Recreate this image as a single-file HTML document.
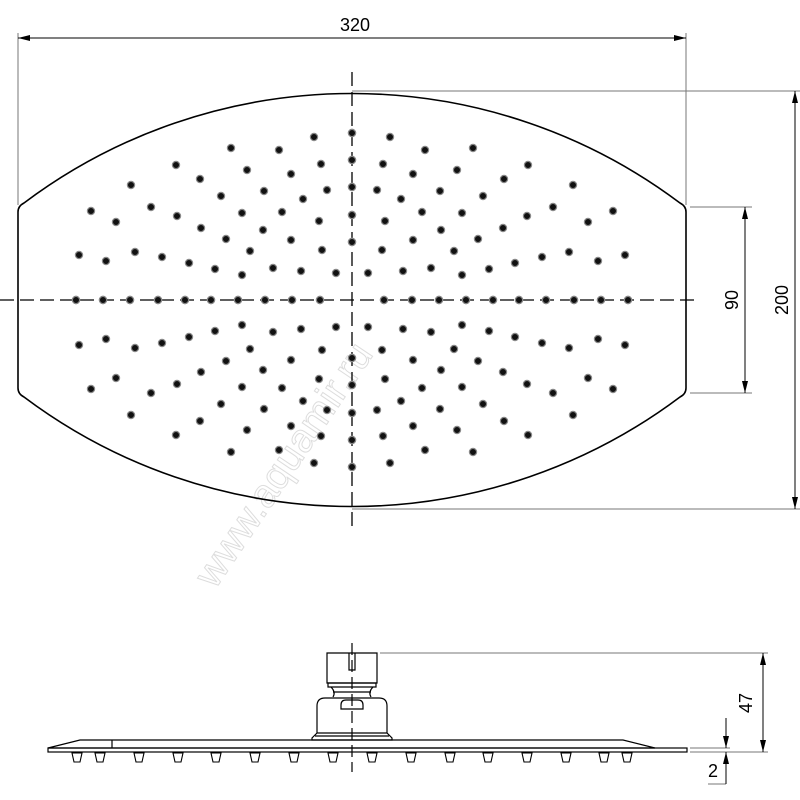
<!DOCTYPE html>
<html><head><meta charset="utf-8"><style>html,body{margin:0;padding:0;background:#fff}svg{display:block}</style></head><body>
<svg width="800" height="800" viewBox="0 0 800 800" xmlns="http://www.w3.org/2000/svg" xmlns:xlink="http://www.w3.org/1999/xlink" font-family="Liberation Sans, sans-serif">
<defs>
<marker id="ar" markerWidth="12" markerHeight="6" refX="12" refY="3" orient="auto" markerUnits="userSpaceOnUse"><path d="M0,0 L12,3 L0,6z" fill="#000"/></marker>
<marker id="as" markerWidth="12" markerHeight="6" refX="0" refY="3" orient="auto" markerUnits="userSpaceOnUse"><path d="M12,0 L0,3 L12,6z" fill="#000"/></marker>
<g id="q" fill="#111" stroke="#888" stroke-width="1.2">
<circle cx="314" cy="137" r="3.6"/><circle cx="231" cy="148" r="3.6"/><circle cx="279" cy="150" r="3.6"/><circle cx="321" cy="164" r="3.6"/>
<circle cx="247" cy="170" r="3.6"/><circle cx="176" cy="165" r="3.6"/><circle cx="200" cy="179" r="3.6"/><circle cx="291" cy="174" r="3.6"/>
<circle cx="327" cy="190" r="3.6"/><circle cx="264" cy="191" r="3.6"/><circle cx="221" cy="196" r="3.6"/><circle cx="303" cy="199" r="3.6"/>
<circle cx="131" cy="185" r="3.6"/><circle cx="151" cy="207" r="3.6"/><circle cx="177" cy="216" r="3.6"/><circle cx="242" cy="213" r="3.6"/>
<circle cx="282" cy="212" r="3.6"/><circle cx="319" cy="221" r="3.6"/><circle cx="91" cy="211" r="3.6"/><circle cx="116" cy="222" r="3.6"/>
<circle cx="201" cy="228" r="3.6"/><circle cx="263" cy="230" r="3.6"/><circle cx="226" cy="239" r="3.6"/><circle cx="291" cy="240" r="3.6"/>
<circle cx="322" cy="250" r="3.6"/><circle cx="250" cy="251" r="3.6"/><circle cx="79" cy="255" r="3.6"/><circle cx="106" cy="261" r="3.6"/>
<circle cx="135" cy="252" r="3.6"/><circle cx="162" cy="257" r="3.6"/><circle cx="189" cy="263" r="3.6"/><circle cx="215" cy="269" r="3.6"/>
<circle cx="242" cy="275" r="3.6"/><circle cx="273" cy="268" r="3.6"/><circle cx="301" cy="271" r="3.6"/><circle cx="336" cy="273" r="3.6"/>
<circle cx="76" cy="300" r="3.6"/><circle cx="103" cy="300" r="3.6"/><circle cx="130" cy="300" r="3.6"/><circle cx="158" cy="300" r="3.6"/>
<circle cx="185" cy="300" r="3.6"/><circle cx="211" cy="300" r="3.6"/><circle cx="238" cy="300" r="3.6"/><circle cx="265" cy="300" r="3.6"/>
<circle cx="292" cy="300" r="3.6"/><circle cx="320" cy="300" r="3.6"/>
<circle cx="352" cy="133" r="3.6"/><circle cx="352" cy="160" r="3.6"/><circle cx="352" cy="187" r="3.6"/><circle cx="352" cy="215" r="3.6"/><circle cx="352" cy="242" r="3.6"/>
</g>
</defs>
<!-- watermark -->
<text x="0" y="0" transform="translate(215,590) rotate(-56)" font-size="40" fill="#fff" stroke="#ddd" stroke-width="1">www.aquamir.ru</text>
<!-- outline -->
<path d="M18,212 Q18,206 24,203 A546,546 0 0 1 680,203 Q686,206 686,212 L686,388 Q686,394 680,397 A546,546 0 0 1 24,397 Q18,394 18,388 Z" fill="none" stroke="#000" stroke-width="1.6"/>
<!-- center lines -->
<line x1="0" y1="300" x2="700" y2="300" stroke="#000" stroke-width="1.3" stroke-dasharray="14,6"/>
<line x1="352" y1="72" x2="352" y2="526" stroke="#000" stroke-width="1.3" stroke-dasharray="14,6"/>
<!-- dots -->
<use xlink:href="#q" href="#q"/>
<use xlink:href="#q" href="#q" transform="translate(704,0) scale(-1,1)"/>
<use xlink:href="#q" href="#q" transform="translate(0,600) scale(1,-1)"/>
<use xlink:href="#q" href="#q" transform="translate(704,600) scale(-1,-1)"/>
<!-- dims -->
<g stroke="#777" stroke-width="1" fill="none">
<line x1="18" y1="33" x2="18" y2="205"/><line x1="686" y1="33" x2="686" y2="205"/>
<line x1="352" y1="91" x2="800" y2="91"/><line x1="352" y1="509" x2="800" y2="509"/>
<line x1="690" y1="207" x2="752" y2="207"/><line x1="690" y1="393" x2="752" y2="393"/>
</g>
<g stroke="#000" stroke-width="1">
<line x1="18" y1="38" x2="686" y2="38" marker-start="url(#as)" marker-end="url(#ar)"/>
<line x1="795" y1="91" x2="795" y2="509" marker-start="url(#as)" marker-end="url(#ar)"/>
<line x1="745" y1="207" x2="745" y2="393" marker-start="url(#as)" marker-end="url(#ar)"/>
</g>
<text x="355" y="31" font-size="18" text-anchor="middle">320</text>
<text transform="translate(738,300) rotate(-90)" font-size="18" text-anchor="middle">90</text>
<text transform="translate(788,300) rotate(-90)" font-size="18" text-anchor="middle">200</text>
<!-- side view -->
<g fill="none" stroke="#000" stroke-width="1.2">
<line x1="352" y1="643" x2="352" y2="772" stroke-dasharray="12,5"/>
<path d="M48,748 L80,740 L623,740 L655,748 Z"/>
<line x1="112" y1="740" x2="112" y2="748"/>
<rect x="48" y="748" width="639" height="4"/>
<path d="M327,653 H377 V683 H327 Z"/>
<path d="M349,653 V670 H355 V653"/>
<path d="M328,683 H376 V687 H328 Z"/>
<path d="M331,687 Q336,692 333,697 M373,687 Q368,692 371,697"/>
<line x1="333" y1="692" x2="371" y2="692"/>
<path d="M317,733 V706 Q317,698 325,698 H379 Q387,698 387,706 V733"/>
<path d="M341,709 V705 Q341,700 346,700 H358 Q363,700 363,705 V709 Z"/>
<path d="M317,733 L312,738 V740 H392 V738 L387,733 Z"/>
<line x1="315" y1="736" x2="389" y2="736"/>
</g>
<g fill="#fff" stroke="#000" stroke-width="1.1">
<path d="M72,753 L82,753 L80,762 L74,762 Z"/>
<path d="M95,753 L105,753 L103,762 L97,762 Z"/>
<path d="M134,753 L144,753 L142,762 L136,762 Z"/>
<path d="M173,753 L183,753 L181,762 L175,762 Z"/>
<path d="M211,753 L221,753 L219,762 L213,762 Z"/>
<path d="M250,753 L260,753 L258,762 L252,762 Z"/>
<path d="M289,753 L299,753 L297,762 L291,762 Z"/>
<path d="M328,753 L338,753 L336,762 L330,762 Z"/>
<path d="M367,753 L377,753 L375,762 L369,762 Z"/>
<path d="M406,753 L416,753 L414,762 L408,762 Z"/>
<path d="M445,753 L455,753 L453,762 L447,762 Z"/>
<path d="M483,753 L493,753 L491,762 L485,762 Z"/>
<path d="M522,753 L532,753 L530,762 L524,762 Z"/>
<path d="M561,753 L571,753 L569,762 L563,762 Z"/>
<path d="M599,753 L609,753 L607,762 L601,762 Z"/>
<path d="M622,753 L632,753 L630,762 L624,762 Z"/>
</g>
<!-- side dims -->
<g stroke="#777" stroke-width="1">
<line x1="380" y1="653" x2="768" y2="653"/><line x1="690" y1="752" x2="768" y2="752"/>
<line x1="690" y1="748" x2="730" y2="748"/><line x1="708" y1="784" x2="726" y2="784"/>
</g>
<g stroke="#000" stroke-width="1">
<line x1="763" y1="653" x2="763" y2="752" marker-start="url(#as)" marker-end="url(#ar)"/>
<line x1="726" y1="718" x2="726" y2="748" marker-end="url(#ar)"/>
<line x1="726" y1="784" x2="726" y2="752" marker-end="url(#ar)"/>
</g>
<text transform="translate(752,703) rotate(-90)" font-size="18" text-anchor="middle">47</text>
<text x="713" y="777" font-size="18" text-anchor="middle">2</text>
</svg>
</body></html>
